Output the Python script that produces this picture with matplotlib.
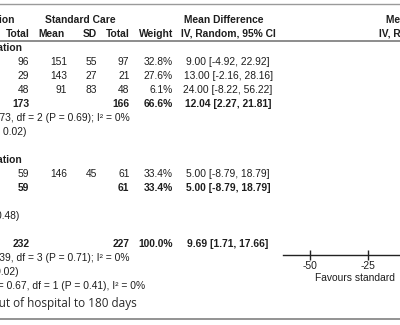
import matplotlib
matplotlib.use('Agg')
import matplotlib.pyplot as plt

# subgroup 1 studies
g1_exp_total = [96, 29, 48]
g1_std_mean = [151, 143, 91]
g1_std_sd = [55, 27, 83]
g1_std_total = [97, 21, 48]
g1_weight = [32.8, 27.6, 6.1]
g1_md = [9.00, 13.00, 24.00]
g1_lo = [-4.92, -2.16, -8.22]
g1_hi = [22.92, 28.16, 56.22]

# subgroup 2 study
g2_exp_total = [59]
g2_std_mean = [146]
g2_std_sd = [45]
g2_std_total = [61]
g2_weight = [33.4]
g2_md = [5.00]
g2_lo = [-8.79]
g2_hi = [18.79]

# subtotals and total: exp total, std total, weight, md, lo, hi
sub1 = [173, 166, 66.6, 12.04, 2.27, 21.81]
sub2 = [59, 61, 33.4, 5.00, -8.79, 18.79]
overall = [232, 227, 100.0, 9.69, 1.71, 17.66]

het1 = "Heterogeneity: Tau² = 0.00; Chi² = 0.73, df = 2 (P = 0.69); I² = 0%"
test1 = "Test for overall effect: Z = 2.42 (P = 0.02)"
test2 = "Test for overall effect: Z = 0.71 (P = 0.48)"
het_all = "Heterogeneity: Tau² = 0.00; Chi² = 1.39, df = 3 (P = 0.71); I² = 0%"
test_all = "Test for overall effect: Z = 2.38 (P = 0.02)"
sub_diff = "Test for subgroup differences: Chi² = 0.67, df = 1 (P = 0.41), I² = 0%"
caption = "Fig. 2 Days alive and out of hospital to 180 days"

axis_ticks = [-50, -25, 0, 25, 50]

FONT = 'Liberation Sans'
FS = 7.4
TXT = '#1e1e1e'

fig = plt.figure(figsize=(4, 3.25), dpi=100)
ax = fig.add_axes([0, 0, 1, 1])
ax.set_xlim(0, 400)
ax.set_ylim(325, 0)
ax.axis('off')


def txt(x, y, s, ha='right', bold=False, **kw):
    ax.text(x, y + 3.6, s, ha=ha, va='baseline', fontsize=FS, family=FONT,
            fontweight='bold' if bold else 'normal', color=TXT, **kw)


def ci_str(md, lo, hi):
    return f"{md:.2f} [{lo:.2f}, {hi:.2f}]"


# column anchors
X_ETOT, X_SMEAN, X_SSD, X_STOT, X_W, X_CI = 29.5, 67, 97, 129.5, 173, 228

# rule lines
ax.axhline(3.5, color='#9a9a9a', lw=1.0)
ax.axhline(41, color='#8c8c8c', lw=1.4)
ax.axhline(318.5, color='#8a8a8a', lw=1.3)

# headers
txt(14.5, 19, "Rehabilitation", bold=True)
txt(80, 19, "Standard Care", ha='center', bold=True)
txt(224, 19, "Mean Difference", ha='center', bold=True)
txt(426, 19, "Mean Difference", ha='center', bold=True)
txt(X_ETOT, 33, "Total", bold=True)
txt(65, 33, "Mean", bold=True)
txt(X_SSD, 33, "SD", bold=True)
txt(X_STOT, 33, "Total", bold=True)
txt(X_W, 33, "Weight", bold=True)
txt(X_CI, 33, "IV, Random, 95% CI", ha='center', bold=True)
txt(426, 33, "IV, Random, 95% CI", ha='center', bold=True)

y0, dy = 47, 14
rows_y = [y0 + dy * i for i in range(18)]

# subgroup 1
txt(22, rows_y[0], "1.1.1 Early mobilisation", bold=True)
for i in range(len(g1_md)):
    y = rows_y[1 + i]
    txt(X_ETOT, y, str(g1_exp_total[i]))
    txt(X_SMEAN, y, str(g1_std_mean[i]))
    txt(X_SSD, y, str(g1_std_sd[i]))
    txt(X_STOT, y, str(g1_std_total[i]))
    txt(X_W, y, f"{g1_weight[i]:.1f}%")
    txt(X_CI, y, ci_str(g1_md[i], g1_lo[i], g1_hi[i]), ha='center')


def subtotal(y, vals):
    txt(X_ETOT, y, str(vals[0]), bold=True)
    txt(X_STOT, y, str(vals[1]), bold=True)
    txt(X_W, y, f"{vals[2]:.1f}%", bold=True)
    txt(X_CI, y, ci_str(vals[3], vals[4], vals[5]), ha='center', bold=True)


subtotal(rows_y[4], sub1)
txt(130, rows_y[5], het1)
txt(27, rows_y[6], test1)

# subgroup 2
txt(22, rows_y[8], "1.1.2 Late mobilisation", bold=True)
for i in range(len(g2_md)):
    y = rows_y[9 + i]
    txt(X_ETOT, y, str(g2_exp_total[i]))
    txt(X_SMEAN, y, str(g2_std_mean[i]))
    txt(X_SSD, y, str(g2_std_sd[i]))
    txt(X_STOT, y, str(g2_std_total[i]))
    txt(X_W, y, f"{g2_weight[i]:.1f}%")
    txt(X_CI, y, ci_str(g2_md[i], g2_lo[i], g2_hi[i]), ha='center')
subtotal(rows_y[10], sub2)
txt(19, rows_y[12], test2)

# overall
subtotal(rows_y[14], overall)
txt(130, rows_y[15], het_all)
txt(19, rows_y[16], test_all)
txt(145, rows_y[17], sub_diff)

ax.text(137, 303, caption, ha='right', va='center', fontsize=8.5,
        family='Open Sans', color='#2a2a2a')

# forest plot panel (mostly beyond the right edge)
px_per_unit = 58 / 25
left_px, axis_y = 283, 255
fa = fig.add_axes([left_px / 400, 1 - axis_y / 325, (400 - left_px) / 400,
                   (axis_y - 41) / 325])
fa.patch.set_visible(False)
for s in ['top', 'right', 'left']:
    fa.spines[s].set_visible(False)
fa.spines['bottom'].set_linewidth(1.0)
fa.spines['bottom'].set_color('#222222')
fa.set_yticks([])

for i in range(len(g1_md)):
    fa.plot([g1_lo[i], g1_hi[i]], [rows_y[1 + i]] * 2, color='k', lw=0.8)
    fa.plot(g1_md[i], rows_y[1 + i], 's', color='#3cb371', ms=2 + g1_weight[i] / 8)
for i in range(len(g2_md)):
    fa.plot([g2_lo[i], g2_hi[i]], [rows_y[9 + i]] * 2, color='k', lw=0.8)
    fa.plot(g2_md[i], rows_y[9 + i], 's', color='#3cb371', ms=2 + g2_weight[i] / 8)
for vals, r in [(sub1, 4), (sub2, 10), (overall, 14)]:
    yy = rows_y[r]
    fa.fill([vals[4], vals[3], vals[5], vals[3]], [yy, yy - 3.5, yy, yy + 3.5], color='k')

fa.set_xticks(axis_ticks)
fa.set_xticklabels([str(t) for t in axis_ticks], fontsize=FS, family=FONT, color=TXT)
fa.tick_params(axis='x', direction='inout', length=7, width=1.0, pad=0.5, color='#222222')
# limits last, so ticks and marks do not widen the view
fa.set_xlim(-50 - (310 - left_px) / px_per_unit, -50 + (400 - 310) / px_per_unit)
fa.set_ylim(axis_y, 41)

ax.text(315, 277 + 3.6, "Favours standard", ha='left', va='baseline',
        fontsize=FS, family=FONT, color=TXT)

fig.savefig('out.png', dpi=100)
